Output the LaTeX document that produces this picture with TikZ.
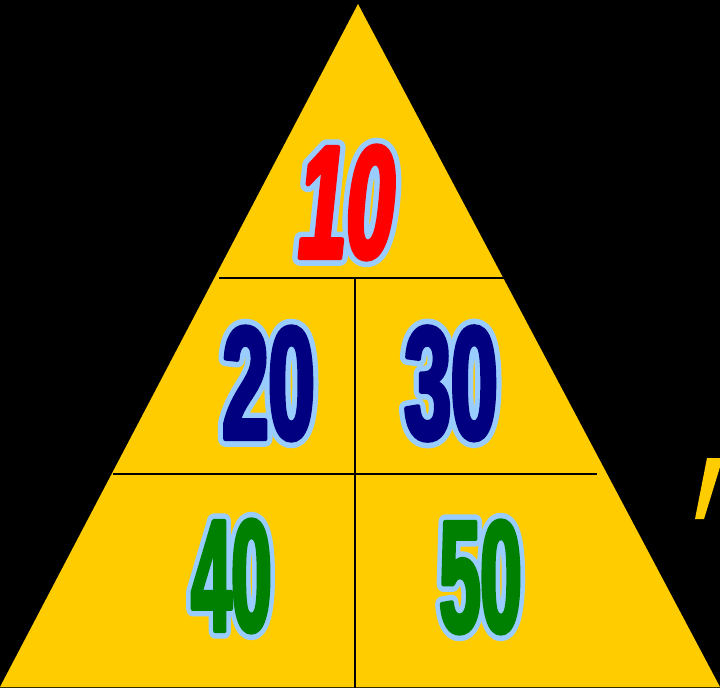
\documentclass[tikz,border=0pt]{standalone}
\usepackage{fontspec}
\setmainfont{Liberation Sans}
\newfontfamily\numfont[FakeStretch=0.56, FakeBold=3]{Liberation Sans}
\newfontfamily\numrimfont[FakeStretch=0.56, FakeBold=10]{Liberation Sans}
\usepackage{graphicx}
\definecolor{tri}{HTML}{FFCC00}
\definecolor{rim}{HTML}{99CCFF}
\definecolor{navyc}{HTML}{000080}
\definecolor{greenc}{HTML}{008000}
\definecolor{redc}{HTML}{FF0000}
\definecolor{baseln}{HTML}{3A3000}
\tikzset{
  numtxt/.style={inner sep=0pt, outer sep=0pt, anchor=center},
  divider/.style={draw=black, line width=1.4pt},
}
\newcommand{\numlabel}[7]{%
  \begin{scope}[line join=round, line cap=round]
  \node[numtxt, text=rim] (#1-rim) at (#2,#3) {\resizebox{#4pt}{#5pt}{\numrimfont\fontsize{160}{160}\selectfont #7}};
  \node[numtxt, text=#6] (#1) at (#2,#3) {\resizebox{#4pt}{#5pt}{\numfont\fontsize{160}{160}\selectfont #7}};
  \end{scope}
}
\begin{document}
\begin{tikzpicture}[x=1pt,y=-1pt]
\useasboundingbox (0,0) rectangle (720,688);
\fill[black] (0,0) rectangle (720,688);
% triangle
\coordinate (apex) at (358,4);
\coordinate (bl) at (0,687);
\coordinate (br) at (720,687);
\fill[tri] (apex) -- (bl) -- (br) -- cycle;
\draw[baseln, line width=1.2pt] (0,687.4) -- (720,687.4);
% partial glyph at right edge
\fill[tri] (707,458) -- (720,458) -- (720,467) -- (704,519) -- (695,519) -- cycle;
% dividers
\coordinate (h1l) at (219,278);
\coordinate (h1r) at (506,278);
\coordinate (h2l) at (113,474);
\coordinate (h2r) at (597,474);
\coordinate (vt) at (355,278);
\coordinate (vb) at (355,688);
\draw[divider] (h1l) -- (h1r);
\draw[divider] (h2l) -- (h2r);
\draw[divider] (vt) -- (vb);
% numbers
\numlabel{n10}{346.5}{202.5}{96}{112}{redc}{\bfseries\itshape 10}
\numlabel{n20}{268.5}{383.5}{92}{112}{navyc}{\bfseries 20}
\numlabel{n30}{451}{383.5}{93}{112}{navyc}{\bfseries 30}
\numlabel{n40}{231.5}{576}{80}{111}{greenc}{\bfseries 40}
\numlabel{n50}{480.5}{577}{82}{111}{greenc}{\bfseries 50}
\end{tikzpicture}
\end{document}
